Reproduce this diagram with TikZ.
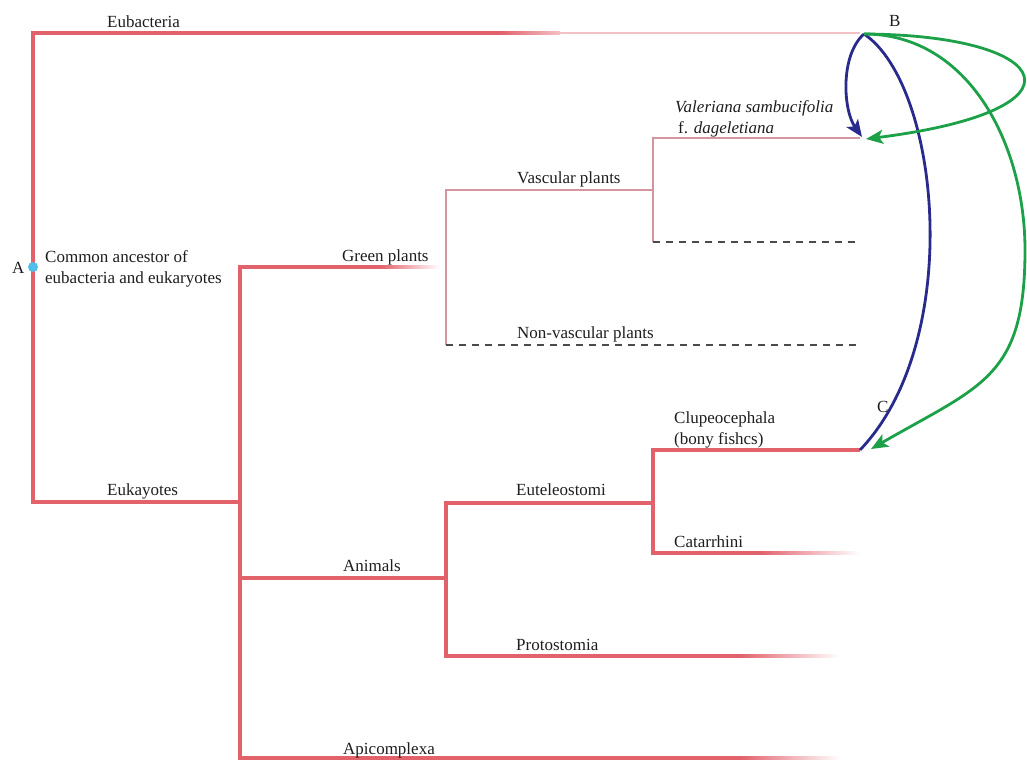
\documentclass[tikz,border=0pt]{standalone}
\usepackage{fontspec}
\setmainfont{Liberation Serif}
\usetikzlibrary{arrows.meta,calc}
\definecolor{treered}{RGB}{226,98,108}
\definecolor{thinpink}{RGB}{212,150,158}
\definecolor{bluearc}{RGB}{40,42,140}
\definecolor{greenarc}{RGB}{28,160,72}
\definecolor{dashgray}{RGB}{75,75,75}
\definecolor{txt}{RGB}{30,30,30}
\definecolor{dotcyan}{RGB}{80,190,235}
\begin{document}
\begin{tikzpicture}[x=1pt,y=-1pt,
  lbl/.style={anchor=base west,inner sep=0pt,font=\fontsize{17}{20}\selectfont,text=txt},
  branch/.style={draw=treered,line width=3.4pt,line join=miter},
  thinbranch/.style={draw=thinpink,line width=1.1pt},
  dashbranch/.style={draw=dashgray,line width=1.6pt,dash pattern=on 7pt off 6pt},
  bluecurve/.style={draw=bluearc,line width=2.8pt},
  greencurve/.style={draw=greenarc,line width=2.8pt},
  tipped/.style={-{Stealth[length=17pt,width=14pt,inset=4pt]}}
]
\useasboundingbox (0,0) rectangle (1027,760);
% coordinates
\coordinate (A) at (33,267);
\coordinate (eubL) at (33,33);
\coordinate (eubM) at (500,33);
\coordinate (eubT) at (560,33);
\coordinate (eubR) at (860,33);
\coordinate (eukL) at (33,502);
\coordinate (eukR) at (240,502);
\coordinate (gpL) at (240,267);
\coordinate (gpM) at (380,267);
\coordinate (gpR) at (440,267);
\coordinate (anL) at (240,578);
\coordinate (anR) at (446,578);
\coordinate (apL) at (240,758);
\coordinate (apM) at (740,758);
\coordinate (apR) at (840,758);
\coordinate (vasL) at (446,190);
\coordinate (vasR) at (653,190);
\coordinate (nonL) at (446,345);
\coordinate (nonR) at (860,345);
\coordinate (valL) at (653,138);
\coordinate (valR) at (860,138);
\coordinate (v3b) at (653,242);
\coordinate (v3R) at (860,242);
\coordinate (eutL) at (446,503);
\coordinate (eutR) at (653,503);
\coordinate (proL) at (446,656);
\coordinate (proM) at (740,656);
\coordinate (proR) at (840,656);
\coordinate (cluL) at (653,450);
\coordinate (cluR) at (860,450);
\coordinate (catL) at (653,553);
\coordinate (catM) at (760,553);
\coordinate (catR) at (860,553);
\coordinate (Bp) at (864,34);
\coordinate (valTip) at (862,137);
\coordinate (valTipG) at (866,139);
\coordinate (cluTipG) at (871,449);
\coordinate (gpk) at (1025,250);

% main tree
\draw[branch] (eubM) -- (eubL) -- (eukL) -- (eukR);
\shade[left color=treered,right color=treered!40] ($(eubM)+(0,-1.7)$) rectangle ($(eubT)+(0,1.7)$);
\draw[draw=treered!40,line width=1.2pt] (eubT) -- (eubR);
\draw[branch] (gpM) -- (gpL) -- (apL) -- (apM);
\shade[left color=treered,right color=white] ($(gpM)+(0,-1.7)$) rectangle ($(gpR)+(0,1.7)$);
\shade[left color=treered,right color=white] ($(apM)+(0,-1.7)$) rectangle ($(apR)+(0,1.7)$);
\draw[branch] (anL) -- (anR);
\draw[branch] (eutR) -- (eutL) -- (proL) -- (proM);
\shade[left color=treered,right color=white] ($(proM)+(0,-1.7)$) rectangle ($(proR)+(0,1.7)$);
\draw[branch] (cluR) -- (cluL) -- (catL) -- (catM);
\shade[left color=treered,right color=white] ($(catM)+(0,-1.7)$) rectangle ($(catR)+(0,1.7)$);
% plants
\draw[thinbranch] (vasR) -- (vasL) -- (nonL);
\draw[dashbranch] (nonL) -- (nonR);
\draw[thinbranch] (valR) -- (valL) -- (v3b);
\draw[dashbranch] (v3b) -- (v3R);
% dot A
\fill[dotcyan] (A) circle (5pt);

% arcs
\draw[bluecurve,tipped] (Bp) .. controls (840,55) and (843,110) .. (valTip);
\draw[bluecurve] (Bp) .. controls (940,85) and (965,340) .. (cluR);
\draw[greencurve,tipped] (Bp) .. controls (1055,35) and (1095,110) .. (valTipG);
\draw[greencurve,tipped] (Bp) to[out=0,in=90] (gpk) to[out=-90,in=30,looseness=1.3] (cluTipG);

% labels
\node[lbl] (lA) at (12,273) {A};
\node[lbl] (lB) at (889,27) {B};
\node[lbl] (lC) at (877,412) {C};
\node[lbl] (lEub) at (107,28) {Eubacteria};
\node[lbl] (lCa1) at (45,262) {Common ancestor of};
\node[lbl] (lCa2) at (45,283) {eubacteria and eukaryotes};
\node[lbl] (lEuk) at (107,495) {Eukayotes};
\node[lbl] (lGp) at (342,261) {Green plants};
\node[lbl] (lVas) at (517,183) {Vascular plants};
\node[lbl] (lNon) at (517,338) {Non-vascular plants};
\node[lbl] (lVal1) at (675,112) {\itshape Valeriana sambucifolia};
\node[lbl] (lVal2) at (678,133) {f. \itshape dageletiana};
\node[lbl] (lAn) at (343,571) {Animals};
\node[lbl] (lEut) at (516,495) {Euteleostomi};
\node[lbl] (lClu1) at (674,423) {Clupeocephala};
\node[lbl] (lClu2) at (674,444) {(bony fishcs)};
\node[lbl] (lCat) at (674,547) {Catarrhini};
\node[lbl] (lPro) at (516,650) {Protostomia};
\node[lbl] (lAp) at (343,754) {Apicomplexa};
\end{tikzpicture}
\end{document}
